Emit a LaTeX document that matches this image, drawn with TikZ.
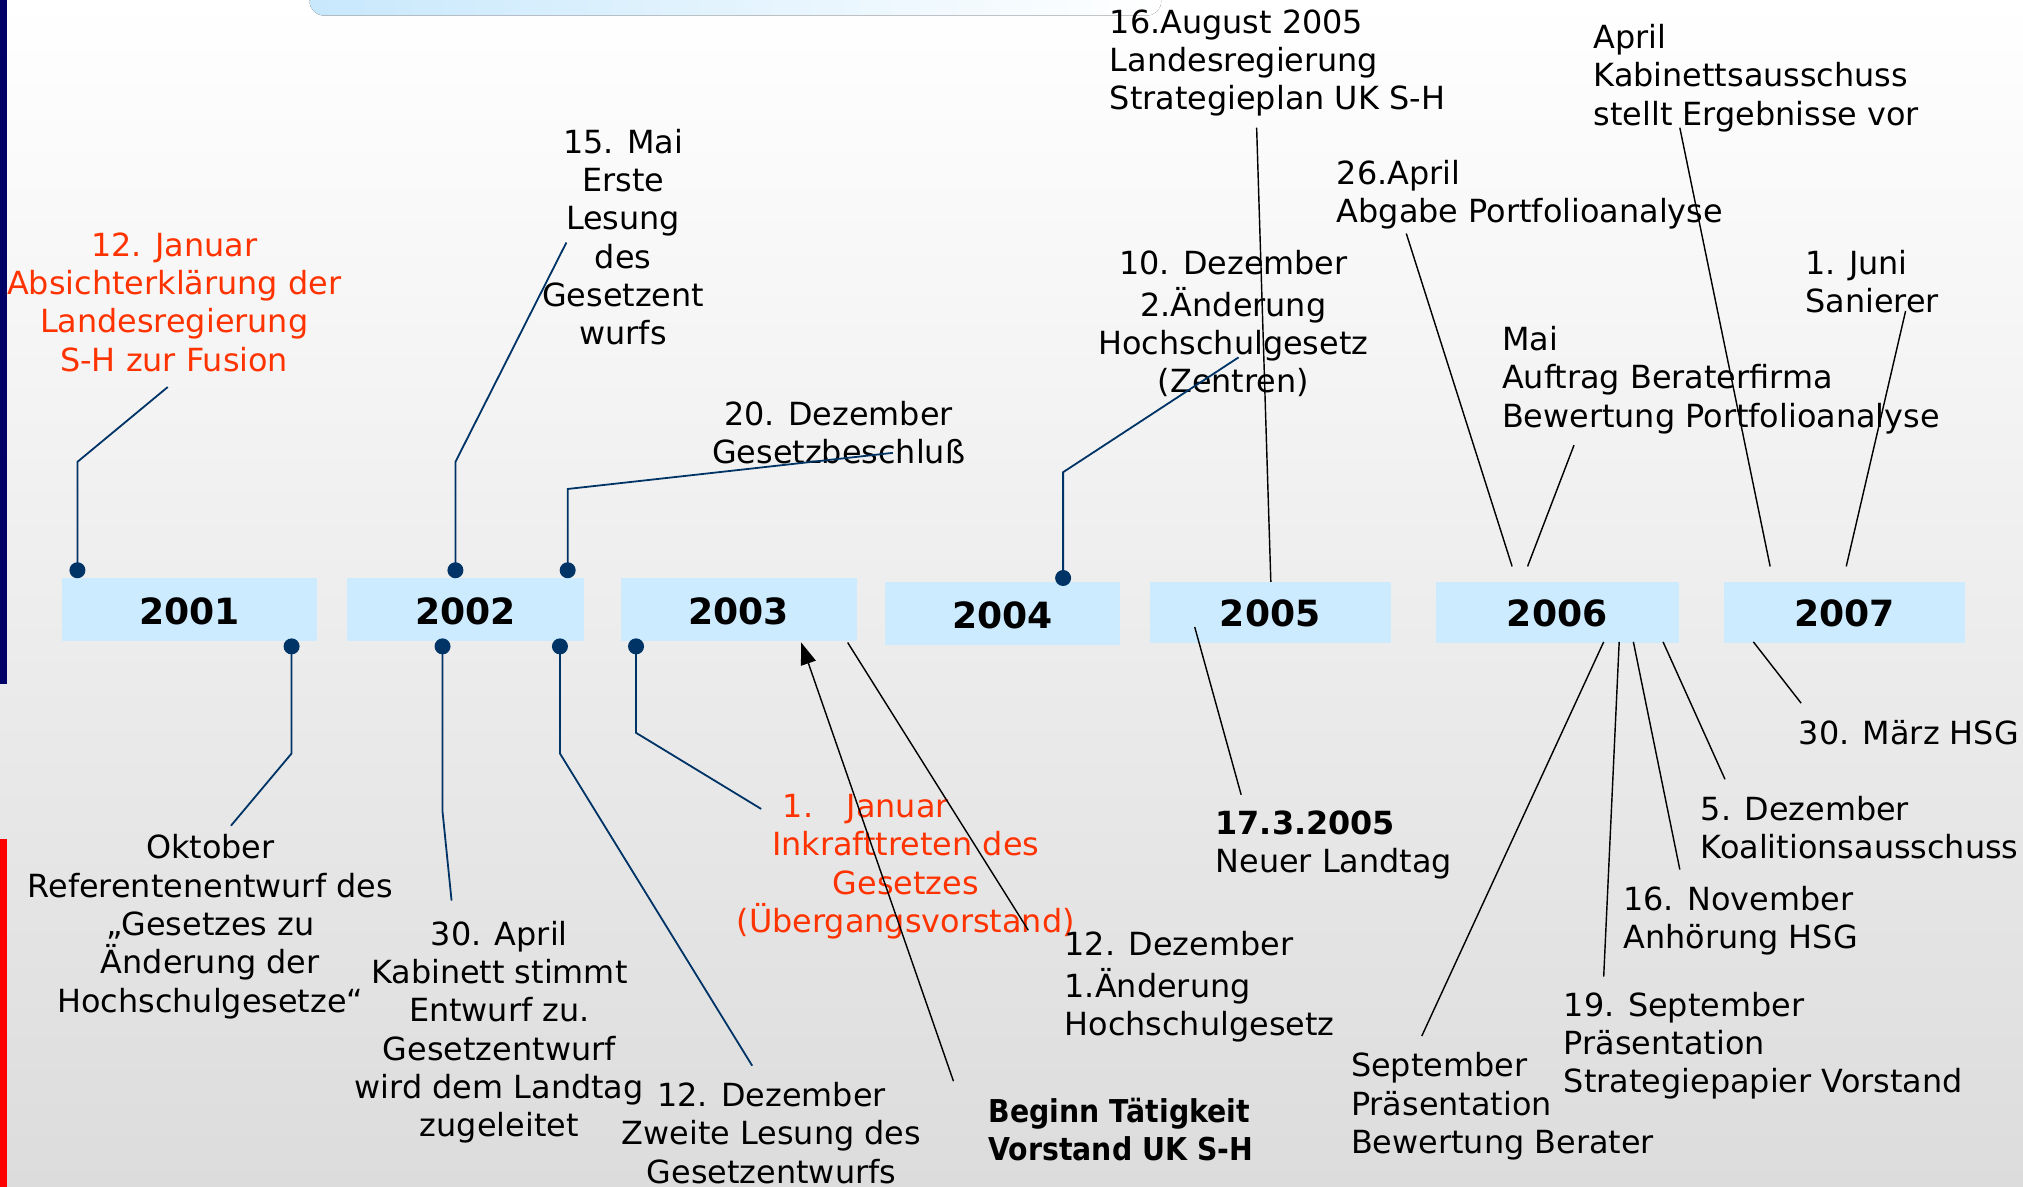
\documentclass[tikz,border=0pt]{standalone}
\usepackage{fontspec}
\setmainfont{DejaVu Sans}
\newfontfamily\condfont[FakeStretch=0.9]{DejaVu Sans}
\usetikzlibrary{arrows.meta}
\definecolor{navyline}{RGB}{0,51,102}
\definecolor{boxblue}{RGB}{204,235,255}
\definecolor{topblue}{RGB}{200,232,252}
\definecolor{redtext}{RGB}{255,51,0}
\definecolor{navybar}{RGB}{0,0,102}
\definecolor{bgbottom}{RGB}{220,220,220}
\newcommand\mytxt{\fontsize{24.7}{29.7}\selectfont}
\newcommand\myyr{\fontsize{28}{30}\selectfont\bfseries}
\newcommand\mybold{\fontsize{24.4}{29.7}\selectfont\bfseries}
\tikzset{
  yearbox/.style={fill=boxblue, inner sep=0pt, font=\myyr, text height=22.7pt, text depth=-2.3pt},
  lbl/.style={inner sep=0pt, font=\mytxt, text=black},
  lblc/.style={lbl, anchor=north, align=center},
  lbll/.style={lbl, anchor=north west, align=left},
  navyconn/.style={draw=navyline, line width=1.4pt},
  blackconn/.style={draw=black, line width=1.1pt},
  dotmark/.style={fill=navyline}
}
\begin{document}
\begin{tikzpicture}[x=1pt,y=-1pt]
\useasboundingbox (0,0) rectangle (1568,920);
\fill[top color=white, bottom color=bgbottom] (0,0) rectangle (1568,920);
\fill[left color=topblue, right color=white, rounded corners=11pt] (240,-30) rectangle (900,12);
\fill[navybar] (0,0) rectangle (5.5,530);
\fill[red] (0,650) rectangle (5.5,920);

% year boxes
\node[yearbox, minimum width=198pt, minimum height=49pt] (y2001) at (147,472.5) {2001};
\node[yearbox, minimum width=184pt, minimum height=49pt] (y2002) at (361,472.5) {2002};
\node[yearbox, minimum width=183pt, minimum height=49pt] (y2003) at (572.5,472.5) {2003};
\node[yearbox, minimum width=182pt, minimum height=49pt] (y2004) at (777,475.5) {2004};
\node[yearbox, minimum width=187pt, minimum height=47pt] (y2005) at (984.5,474.5) {2005};
\node[yearbox, minimum width=188pt, minimum height=47pt] (y2006) at (1207,474.5) {2006};
\node[yearbox, minimum width=187pt, minimum height=47pt] (y2007) at (1429.5,474.5) {2007};

% labels
\node[lblc, text=redtext] (t1) at (135,177.7) {\strut 12. Januar\\Absichterklärung der\\Landesregierung\\S-H zur Fusion};
\node[lblc] (t2) at (483,97.7) {\strut 15. Mai\\Erste\\Lesung\\des\\Gesetzent\\wurfs};
\node[lblc] (t3) at (650,308.7) {\strut 20. Dezember\\Gesetzbeschluß};
\node[lblc] (t4) at (956,191.7) {\strut 10. Dezember\\2.Änderung\\Hochschulgesetz\\(Zentren)};
\node[lblc] (t5) at (163,644.7) {\strut Oktober\\Referentenentwurf des\\„Gesetzes zu\\Änderung der\\Hochschulgesetze“};
\node[lblc] (t6) at (387,711.7) {\strut 30. April\\Kabinett stimmt\\Entwurf zu.\\Gesetzentwurf\\wird dem Landtag\\zugeleitet};
\node[lblc] (t7) at (598,836.7) {\strut 12. Dezember\\Zweite Lesung des\\Gesetzentwurfs};
\node[lblc, text=redtext] (t8) at (702,612.7) {\strut 1.\hspace{26pt}Januar\hspace*{62pt}\\Inkrafttreten des\\Gesetzes\\(Übergangsvorstand)};
\node[lbll] (t9) at (860,4.7) {\strut 16.August 2005\\Landesregierung\\Strategieplan UK S-H};
\node[lbll] (t10) at (1235,16.7) {\strut April\\Kabinettsausschuss\\stellt Ergebnisse vor};
\node[lbll] (t11) at (1036,121.7) {\strut 26.April\\Abgabe Portfolioanalyse};
\node[lbll] (t12) at (1399,191.7) {\strut 1. Juni\\Sanierer};
\node[lbll] (t13) at (1164,250.7) {\strut Mai\\Auftrag Beraterfirma\\Bewertung Portfolioanalyse};
\node[lbll] (t14) at (825,719.7) {\strut 12. Dezember\\1.Änderung\\Hochschulgesetz};
\node[lbll, font=\mybold\condfont] (t15) at (766,848.7) {\strut Beginn Tätigkeit\\Vorstand UK S-H};
\node[lbll] (t16) at (942,625.7) {\strut\textbf{17.3.2005}\\Neuer Landtag};
\node[lbll] (t17) at (1394,555.7) {\strut 30. März HSG};
\node[lbll] (t18) at (1318,614.7) {\strut 5. Dezember\\Koalitionsausschuss};
\node[lbll] (t19) at (1258,684.7) {\strut 16. November\\Anhörung HSG};
\node[lbll] (t20) at (1212,766.7) {\strut 19. September\\Präsentation\\Strategiepapier Vorstand};
\node[lbll] (t21) at (1047,813.7) {\strut September\\Präsentation\\Bewertung Berater};

% navy connectors with dots
\coordinate (d1) at (60,442);   \coordinate (e1) at (130,300);
\coordinate (d2) at (353,442);  \coordinate (e2) at (439,188);
\coordinate (d3) at (440,442);  \coordinate (e3) at (692,351);
\coordinate (d4) at (824,448);  \coordinate (e4) at (960,277);
\coordinate (d5) at (226,501);  \coordinate (e5) at (179,640);
\coordinate (d6) at (343,501);  \coordinate (e6) at (350,698);
\coordinate (d7) at (434,501);  \coordinate (e7) at (583,826);
\coordinate (d8) at (493,501);  \coordinate (e8) at (590,627);
\draw[navyconn] (d1) -- (60,358) -- (e1);
\draw[navyconn] (d2) -- (353,358) -- (e2);
\draw[navyconn] (d3) -- (440,379) -- (e3);
\draw[navyconn] (d4) -- (824,366) -- (e4);
\draw[navyconn] (d5) -- (226,584) -- (e5);
\draw[navyconn] (d6) -- (343,629) -- (e6);
\draw[navyconn] (d7) -- (434,584) -- (e7);
\draw[navyconn] (d8) -- (493,568) -- (e8);
\foreach \d in {d1,d2,d3,d4,d5,d6,d7,d8} \fill[dotmark] (\d) circle (6.2pt);

% black connectors
\coordinate (b1s) at (739,838);  \coordinate (b1e) at (621,498);
\coordinate (b2s) at (657,498);  \coordinate (b2e) at (797,721);
\coordinate (b3s) at (926,486);  \coordinate (b3e) at (962,616);
\coordinate (b4s) at (974,99);   \coordinate (b4e) at (985,451);
\coordinate (b5s) at (1090,181); \coordinate (b5e) at (1172,439);
\coordinate (b6s) at (1220,345); \coordinate (b6e) at (1184,439);
\coordinate (b7s) at (1302,99);  \coordinate (b7e) at (1372,439);
\coordinate (b8s) at (1477,241); \coordinate (b8e) at (1431,439);
\coordinate (b9s) at (1243,497.5);  \coordinate (b9e) at (1102,803);
\coordinate (b10s) at (1255,497.5); \coordinate (b10e) at (1243,757);
\coordinate (b11s) at (1266,497.5); \coordinate (b11e) at (1302,674);
\coordinate (b12s) at (1289,497.5); \coordinate (b12e) at (1337,604);
\coordinate (b13s) at (1359,497.5); \coordinate (b13e) at (1396,545);
\draw[blackconn, -{Triangle[length=17pt,width=12pt]}] (b1s) -- (b1e);
\foreach \n in {2,...,13} \draw[blackconn] (b\n s) -- (b\n e);
\end{tikzpicture}
\end{document}
